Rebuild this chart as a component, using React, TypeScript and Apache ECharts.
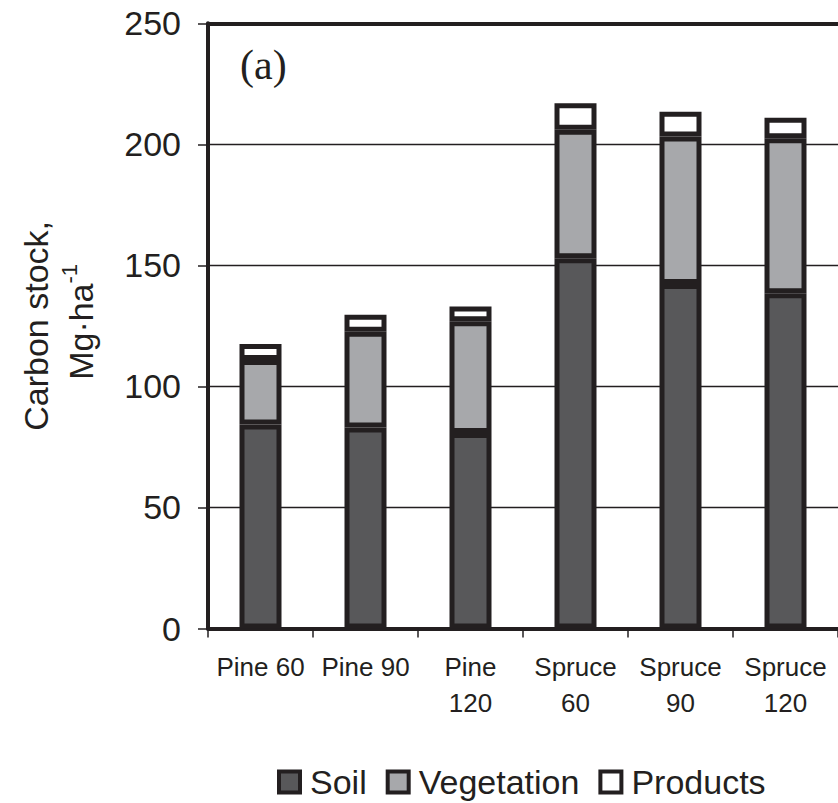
import React, { useEffect, useRef } from "react";
import * as echarts from "echarts";

const categories = ["Pine 60", "Pine 90", "Pine\n120", "Spruce\n60", "Spruce\n90", "Spruce\n120"];
const seriesNames = ["Soil", "Vegetation", "Products"];
const soil = [84.3, 83.0, 80.8, 152.9, 142.3, 138.5];
const vegetation = [26.6, 39.6, 46.1, 53.1, 60.9, 64.0];
const products = [6.6, 7.0, 6.1, 11.0, 10.3, 8.5];
const yMin = 0;
const yMax = 250;
const yInterval = 50;

const INK = "#231f20";
const FONT = "'Liberation Sans', Arial, sans-serif";
const colors = ["#58585a", "#a7a8ab", "#ffffff"];

export default function App() {
  const ref = useRef<HTMLDivElement>(null);
  useEffect(() => {
    if (!ref.current) return;
    const chart = echarts.init(ref.current, null, { renderer: "svg" });
    const values = [soil, vegetation, products];
    chart.setOption({
      animation: false,
      backgroundColor: "#ffffff",
      grid: { left: 208, top: 23.3, height: 605.2, width: 640, containLabel: false },
      xAxis: [
        {
          type: "category",
          data: categories,
          position: "bottom",
          axisLine: { show: true, lineStyle: { color: INK, width: 4 } },
          axisTick: { show: true, length: 9, lineStyle: { color: INK, width: 1.5 } },
          axisLabel: {
            color: INK,
            fontFamily: FONT,
            fontSize: 26,
            lineHeight: 36,
            margin: 20,
            interval: 0,
          },
          splitLine: { show: false },
        },
        {
          type: "category",
          data: categories,
          position: "top",
          axisLine: { show: true, lineStyle: { color: INK, width: 4 } },
          axisTick: { show: false },
          axisLabel: { show: false },
          splitLine: { show: false },
        },
      ],
      yAxis: {
        type: "value",
        min: yMin,
        max: yMax,
        interval: yInterval,
        name: "{a|Carbon stock,}\n{b|Mg·ha}{s|-1}",
        nameLocation: "middle",
        nameRotate: 90,
        nameGap: 105,
        nameTextStyle: {
          color: INK,
          fontFamily: FONT,
          align: "center",
          rich: {
            a: { fontSize: 34, lineHeight: 45, color: INK, fontFamily: FONT, align: "center" },
            b: { fontSize: 34, lineHeight: 45, color: INK, fontFamily: FONT, align: "center", padding: [0, 0, 0, 8] },
            s: { fontSize: 22, lineHeight: 24, verticalAlign: "top", color: INK, fontFamily: FONT, align: "center" },
          },
        },
        axisLine: { show: true, lineStyle: { color: INK, width: 4 } },
        axisTick: { show: true, length: 10, lineStyle: { color: INK, width: 1.5 } },
        axisLabel: { color: INK, fontFamily: FONT, fontSize: 34, margin: 27 },
        splitLine: { show: true, lineStyle: { color: INK, width: 1.3 } },
      },
      legend: {
        data: seriesNames,
        left: 277,
        top: 765,
        padding: 0,
        icon: "rect",
        itemWidth: 21,
        itemHeight: 21,
        itemGap: 19,
        itemStyle: { borderColor: INK, borderWidth: 4 },
        textStyle: { color: INK, fontFamily: FONT, fontSize: 34, padding: [0, 0, 0, 5] },
      },
      graphic: [
        {
          type: "text",
          left: 240,
          top: 44,
          style: { text: "(a)", fontFamily: "'Liberation Serif', 'Times New Roman', serif", fontSize: 42, fill: INK },
        },
      ],
      series: seriesNames.map((name, i) => ({
        name,
        type: "bar",
        stack: "total",
        barWidth: 42,
        data: values[i],
        itemStyle: { color: colors[i], borderColor: INK, borderWidth: 5 },
      })),
    });
    return () => chart.dispose();
  }, []);
  return <div ref={ref} style={{ position: "absolute", left: 0, top: 0, width: 838, height: 803 }} />;
}
